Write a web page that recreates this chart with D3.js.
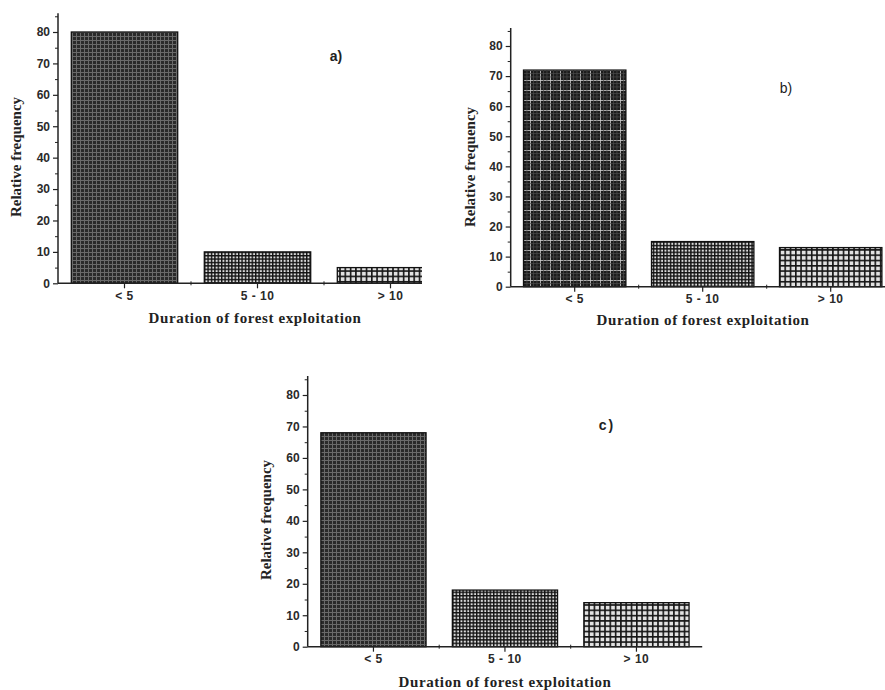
<!DOCTYPE html>
<html><head><meta charset="utf-8">
<script src="https://cdn.jsdelivr.net/npm/d3@7"></script>
<style>
html,body{margin:0;padding:0;background:#fff;}
svg{display:block;}
</style></head>
<body>
<svg id="chart" width="885" height="690"></svg>
<script>
// ---- data ----
const categories = ["< 5", "5 - 10", "> 10"];
const valuesA = [80, 10, 5];
const valuesB = [72, 15, 13];
const valuesC = [68, 18, 14];
const yTicks = [0, 10, 20, 30, 40, 50, 60, 70, 80];
const yMinorTicks = [5, 15, 25, 35, 45, 55, 65, 75, 85];
const panelLabels = ["a)", "b)", "c)"];
const xTitle = "Duration of forest exploitation";
const yTitle = "Relative frequency";

const svg = d3.select("#chart");
const defs = svg.append("defs");

// patterns
function gridPattern(id, size, bg, line, lw, extra) {
  const p = defs.append("pattern").attr("id", id)
    .attr("patternUnits", "userSpaceOnUse").attr("width", size).attr("height", size);
  p.append("rect").attr("width", size).attr("height", size).attr("fill", bg);
  p.append("rect").attr("x", 0).attr("y", 0).attr("width", lw).attr("height", size).attr("fill", line);
  p.append("rect").attr("x", 0).attr("y", 0).attr("width", size).attr("height", lw).attr("fill", line);
  if (extra) extra(p);
}
gridPattern("pDark", 4, "#2a2a2a", "#6a6a6a", 1, p => {});
gridPattern("pDarkB", 10, "#1c1c1c", "#cfcfcf", 0.8, p => {
  [3.3, 6.6].forEach(o => {
    p.append("rect").attr("x", o).attr("y", 0).attr("width", 0.7).attr("height", 10).attr("fill", "#4a4a4a");
    p.append("rect").attr("x", 0).attr("y", o).attr("width", 10).attr("height", 0.7).attr("fill", "#4a4a4a");
  });
});
gridPattern("pMed", 3.4, "#dcdcdc", "#121212", 1.4);
gridPattern("pLight", 5.3, "#e2e2e2", "#151515", 1.6);

const panels = [
  { values: valuesA, label: panelLabels[0], x0: 58, x1: 457, y0: 283.3, y80: 32, clipRight: 422,
    pats: ["pDark", "pMed", "pLight"], labelPos: [336, 57], yTitlePos: [18, 157], xTitlePos: [255, 320], catY: 297 },
  { values: valuesB, label: panelLabels[1], x0: 510.7, x1: 894.7, y0: 286.7, y80: 46, clipRight: 885,
    pats: ["pDarkB", "pMed", "pLight"], labelPos: [786, 89], yTitlePos: [472, 167], xTitlePos: [703, 322], catY: 300 },
  { values: valuesC, label: panelLabels[2], x0: 307.7, x1: 702.2, y0: 646.7, y80: 395, clipRight: 885,
    pats: ["pDark", "pMed", "pLight"], labelPos: [607, 426], yTitlePos: [268, 520], xTitlePos: [505, 684], catY: 660 }
];

panels.forEach((P, pi) => {
  const clipId = "clip" + pi;
  defs.append("clipPath").attr("id", clipId).append("rect")
    .attr("x", 0).attr("y", 0).attr("width", P.clipRight).attr("height", 690);
  const g = svg.append("g").attr("clip-path", `url(#${clipId})`);

  const unit = (P.y0 - P.y80) / 80;
  const yMax = 86;
  const y = d3.scaleLinear().domain([0, yMax]).range([P.y0, P.y0 - yMax * unit]);
  const x = d3.scaleBand().domain(categories).range([P.x0, P.x1])
    .paddingInner(0.2).paddingOuter(0.1);
  const step = x.step();

  // bars
  g.selectAll("rect.bar").data(P.values).join("rect")
    .attr("class", "bar")
    .attr("x", (d, i) => x(categories[i]))
    .attr("width", x.bandwidth())
    .attr("y", d => y(d))
    .attr("height", d => y(0) - y(d))
    .attr("fill", (d, i) => `url(#${P.pats[i]})`)
    .attr("stroke", "#111").attr("stroke-width", 1.3);

  // y axis
  const yAxis = d3.axisLeft(y).tickValues(yTicks).tickSize(5).tickPadding(3).tickFormat(d3.format("d"));
  const ya = g.append("g").attr("transform", `translate(${P.x0},0)`).call(yAxis);
  ya.select(".domain").attr("stroke", "#222").attr("stroke-width", 1.5).attr("d", `M0,${y(0)}V${y(yMax)}`);
  ya.selectAll(".tick line").attr("stroke", "#222").attr("stroke-width", 1.2);
  ya.selectAll(".tick text").attr("font-family", "Liberation Sans, Arial, sans-serif")
    .attr("font-weight", "bold").attr("font-size", 12).attr("fill", "#2a2a2a");
  const yMinor = d3.axisLeft(y).tickValues(yMinorTicks).tickSize(3).tickFormat("");
  const ym = g.append("g").attr("transform", `translate(${P.x0},0)`).call(yMinor);
  ym.select(".domain").remove();
  ym.selectAll(".tick line").attr("stroke", "#222").attr("stroke-width", 1);

  // x axis
  const xAxis = d3.axisBottom(x).tickSize(5).tickPadding(4);
  const xa = g.append("g").attr("transform", `translate(0,${y(0)})`).call(xAxis);
  xa.select(".domain").attr("stroke", "#222").attr("stroke-width", 1.5).attr("d", `M${P.x0},0H${P.x1}`);
  xa.selectAll(".tick line").attr("stroke", "#222").attr("stroke-width", 1.2);
  xa.selectAll(".tick text").attr("font-family", "Liberation Sans, Arial, sans-serif")
    .attr("font-weight", "bold").attr("font-size", 12).attr("fill", "#2a2a2a")
    .attr("letter-spacing", 0.5)
    .attr("y", null).attr("dy", null)
    .attr("transform", `translate(0,${P.catY - y(0)})`).attr("dominant-baseline", "middle");
  // minor x ticks between categories
  const mids = categories.slice(0, -1).map(c => x(c) + x.bandwidth() / 2 + step / 2);
  g.selectAll("line.xminor").data(mids).join("line").attr("class", "xminor")
    .attr("x1", d => d).attr("x2", d => d).attr("y1", y(0) - 2).attr("y2", y(0) + 2)
    .attr("stroke", "#222").attr("stroke-width", 1);

  // titles
  g.append("text").text(yTitle)
    .attr("transform", `translate(${P.yTitlePos[0]},${P.yTitlePos[1]}) rotate(-90)`)
    .attr("text-anchor", "middle").attr("dominant-baseline", "middle")
    .attr("font-family", "Liberation Serif, Times New Roman, serif")
    .attr("font-weight", "bold").attr("font-size", 15).attr("fill", "#222");
  g.append("text").text(xTitle)
    .attr("x", P.xTitlePos[0]).attr("y", P.xTitlePos[1])
    .attr("text-anchor", "middle").attr("dominant-baseline", "middle")
    .attr("font-family", "Liberation Serif, Times New Roman, serif")
    .attr("font-weight", "bold").attr("font-size", 15).attr("letter-spacing", 0.6).attr("fill", "#222");
  g.append("text").text(P.label)
    .attr("x", P.labelPos[0]).attr("y", P.labelPos[1])
    .attr("text-anchor", "middle").attr("dominant-baseline", "middle")
    .attr("font-family", "Liberation Sans, Arial, sans-serif")
    .attr("font-weight", pi === 1 ? "normal" : "bold").attr("font-size", 14)
    .attr("letter-spacing", pi === 2 ? 2 : 0).attr("fill", "#222");
});
</script>
</body></html>
